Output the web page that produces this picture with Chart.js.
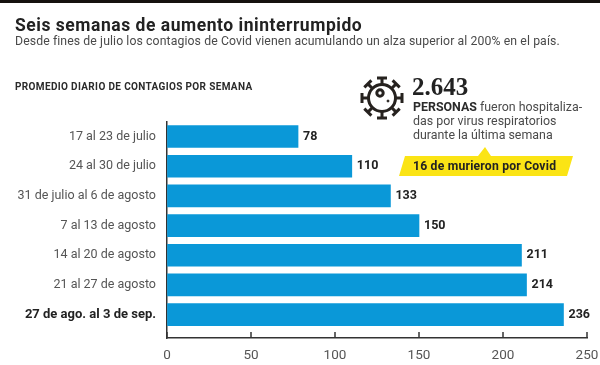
<!DOCTYPE html>
<html>
<head>
<meta charset="utf-8">
<script src="https://cdn.jsdelivr.net/npm/chart.js@4"></script>
<style>
html, body { margin: 0; padding: 0; background: #fff; }
#wrap { position: relative; width: 600px; height: 365px; overflow: hidden; font-family: "Liberation Sans", sans-serif; }
#wrap div { position: absolute; white-space: nowrap; }
canvas { position: absolute; left: 0; top: 0; }
#topbar { left: 0; top: 0; width: 600px; height: 3px; background: #15120f; }
#title { left: 15px; top: 15px; font: bold 17.5px "Roboto", sans-serif; letter-spacing: .53px; color: #222; }
#sub { left: 15px; top: 34px; font: 12.25px "Roboto", sans-serif; letter-spacing: .1px; color: #4a4a4a; }
#head { left: 15px; top: 81px; font: bold 10px "Roboto", sans-serif; letter-spacing: .35px; color: #2b2b2b; }
#big { left: 412px; top: 73px; font: bold 25px "Liberation Serif", serif; color: #222; }
#note { left: 413px; top: 100px; font: 12.4px/14px "Roboto", sans-serif; color: #4a4a4a; }
#note b { color: #2b2b2b; }
#callout { left: 413px; top: 159px; font: bold 12.2px "Roboto", sans-serif; letter-spacing: .2px; color: #222; z-index: 2; }
svg { position: absolute; left: 0; top: 0; }
</style>
</head>
<body>
<div id="wrap">
<canvas id="mycanvas" width="600" height="365"></canvas>
<svg width="600" height="365">
	<polygon points="399,176 405,156 478,156 485,147 491,156 573,156 567,176" fill="#fbe415"/>
	<g transform="translate(382,98)" fill="none" stroke="#26221f" stroke-width="3">
		<circle r="13.5"/>
		<circle cx="-2" cy="-5" r="3.2"/>
		<circle cx="6" cy="3" r="1" fill="#26221f" stroke-width="1"/>
		<g id="spike"><path d="M0,-13.5V-20M-5,-20H5"/></g>
		<use href="#spike" transform="rotate(45)"/>
		<use href="#spike" transform="rotate(90)"/>
		<use href="#spike" transform="rotate(135)"/>
		<use href="#spike" transform="rotate(180)"/>
		<use href="#spike" transform="rotate(225)"/>
		<use href="#spike" transform="rotate(270)"/>
		<use href="#spike" transform="rotate(315)"/>
	</g>
</svg>
<div id="topbar"></div>
<div id="title">Seis semanas de aumento ininterrumpido</div>
<div id="sub">Desde fines de julio los contagios de Covid vienen acumulando un alza superior al 200% en el país.</div>
<div id="head">PROMEDIO DIARIO DE CONTAGIOS POR SEMANA</div>
<div id="big">2.643</div>
<div id="note"><b>PERSONAS</b> fueron hospitaliza-<br>das por virus respiratorios<br>durante la última semana</div>
<div id="callout">16 de murieron por Covid</div>
</div>
<script>
var semanas = [
	"17 al 23 de julio",
	"24 al 30 de julio",
	"31 de julio al 6 de agosto",
	"7 al 13 de agosto",
	"14 al 20 de agosto",
	"21 al 27 de agosto",
	"27 de ago. al 3 de sep."
];
var promedio = [78, 110, 133, 150, 211, 214, 236];
var xTicks = [0, 50, 100, 150, 200, 250];

var puntos = [];
for (var i in promedio) {
	puntos.push({ x: promedio[i], y: Number(i) });
}

// number at the end of each bar, and the small ticks that point up from the x axis
var extras = {
	id: "extras",
	afterDraw: function(chart) {
		var ctx = chart.ctx;
		var meta = chart.getDatasetMeta(0);
		ctx.save();
		ctx.font = "bold 12.5px Roboto";
		ctx.fillStyle = "#222";
		ctx.textBaseline = "middle";
		meta.data.forEach(function(bar, i) {
			ctx.fillText(promedio[i], bar.x + 5, bar.y);
		});
		ctx.strokeStyle = "#333";
		ctx.lineWidth = 1.5;
		var bottom = chart.chartArea.bottom;
		xTicks.forEach(function(v) {
			var px = chart.scales.x.getPixelForValue(v);
			ctx.beginPath();
			ctx.moveTo(px, bottom);
			ctx.lineTo(px, bottom - 6);
			ctx.stroke();
		});
		ctx.restore();
	}
};

var LineGraph = new Chart(document.getElementById("mycanvas"), {
	type: "bar",
	plugins: [extras],
	data: {
		datasets: [{
			data: puntos,
			backgroundColor: "#0a98d8",
			barThickness: 22
		}]
	},
	options: {
		indexAxis: "y",
		responsive: false,
		animation: false,
		layout: { padding: { top: 122, right: 13, bottom: 0, left: 0 } },
		plugins: { legend: { display: false }, tooltip: { enabled: false } },
		scales: {
			x: {
				type: "linear",
				min: 0,
				max: 250,
				afterFit: function(scale) {
					scale.height = 27;
					scale.paddingRight = 0;
					scale.paddingLeft = 0;
				},
				afterBuildTicks: function(scale) {
					scale.ticks = xTicks.map(function(v) { return { value: v }; });
				},
				grid: { drawOnChartArea: false, drawTicks: false },
				border: { color: "#333", width: 1.5 },
				ticks: { padding: 10, maxRotation: 0, color: "#555", font: { family: "Roboto", size: 13.5 } }
			},
			y: {
				type: "linear",
				offset: false,
				bounds: "data",
				reverse: true,
				min: -0.49,
				max: 6.79,
				afterFit: function(scale) { scale.width = 167; },
				afterBuildTicks: function(scale) {
					scale.ticks = promedio.map(function(v, i) { return { value: i }; });
				},
				grid: { display: false, offset: false },
				border: { display: true, color: "#333", width: 1.5 },
				ticks: {
					padding: 3,
					callback: function(value) { return semanas[value]; },
					color: function(c) { return c.index === 6 ? "#222" : "#555"; },
					font: function(c) {
						return c.index === 6
							? { family: "Roboto", size: 13, weight: "bold" }
							: { family: "Roboto", size: 12.5 };
					}
				}
			}
		}
	}
});
</script>
</body>
</html>
